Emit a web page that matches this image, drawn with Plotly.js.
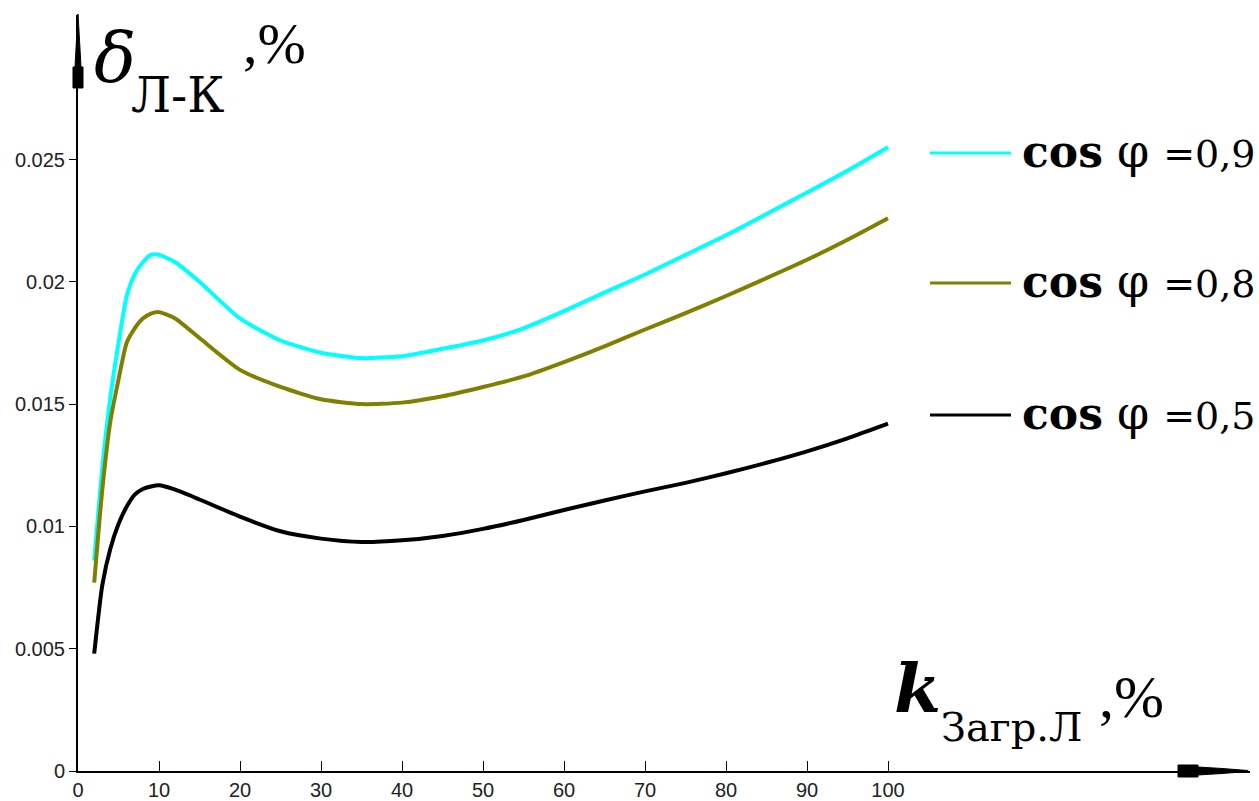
<!DOCTYPE html>
<html>
<head>
<meta charset="utf-8">
<script src="https://cdn.plot.ly/plotly-3.0.1.min.js"></script>
<style>html,body{margin:0;padding:0;background:#fff;}#chart{width:1259px;height:801px;}</style>
</head>
<body>
<div id="chart"></div>
<script>
// Load factor of the line, %
const kLoad = [2,3,4,5,6,7,8,9,10,12,15,20,25,30,35,40,45,50,55,60,65,70,75,80,85,90,95,100];
// delta Л-К, % for cos phi = 0.9, 0.8, 0.5
const cos09 = [0.0086,0.0124,0.0153,0.0175,0.0194,0.0203,0.0208,0.0211,0.0211,0.0208,0.0200,0.0185,0.0176,0.0171,0.01688,0.01696,0.01726,0.0176,0.0181,0.0188,0.01956,0.0203,0.0211,0.0219,0.02277,0.02365,0.02454,0.0255];
const cos08 = [0.0077,0.0115,0.0143,0.0160,0.0175,0.0181,0.0185,0.0187,0.01876,0.0185,0.0177,0.0164,0.0157,0.0152,0.0150,0.01506,0.01532,0.0157,0.01613,0.01672,0.01736,0.01805,0.01872,0.01942,0.02015,0.0209,0.02172,0.0226];
const cos05 = [0.0048,0.0076,0.0091,0.0101,0.0108,0.0113,0.01153,0.01163,0.01168,0.0115,0.0111,0.0104,0.0098,0.0095,0.00936,0.00943,0.00961,0.0099,0.01026,0.01067,0.01106,0.01143,0.01178,0.01217,0.0126,0.01307,0.0136,0.0142];
const seriesNames = ['cos φ =0,9','cos φ =0,8','cos φ =0,5'];
const seriesColors = ['#00FFFF','#808000','#000000'];
const xTicks = [0,10,20,30,40,50,60,70,80,90,100];
const yTicks = [0,0.005,0.01,0.015,0.02,0.025];
const yTickText = ['0','0.005','0.01','0.015','0.02','0.025'];

// layout geometry (pixels)
const W = 1259, H = 801, L = 78, R = 9, T = 15, B = 30;
const pw = W - L - R, ph = H - T - B;
const P = px => (px - L) / pw;
const Q = py => (H - B - py) / ph;

const data = [cos09, cos08, cos05].map((ys, i) => ({
  x: kLoad, y: ys, type: 'scatter', mode: 'lines', name: seriesNames[i],
  line: {color: seriesColors[i], width: 4, shape: 'spline', smoothing: 0.6},
  showlegend: false, hoverinfo: 'skip'
}));

const tickFont = {family: '"Liberation Sans", Arial, sans-serif', size: 20, color: '#222'};
const serif = '"DejaVu Serif", "Liberation Serif", serif';
const tserif = '"Liberation Serif", "Times New Roman", serif';

function ann(text, px, py, size, family, extra) {
  return Object.assign({
    text: text, xref: 'paper', yref: 'paper', x: P(px), y: Q(py),
    xanchor: 'left', yanchor: 'middle', showarrow: false, borderpad: 0,
    font: {family: family, size: size, color: '#000'}
  }, extra || {});
}

const annotations = [
  ann('<i>δ</i>', 93, 58, 70, serif),
  ann('Л-К', 130, 95, 48, serif),
  ann(',%', 242, 43, 58, tserif),
  ann('<b><i>k</i></b>', 893, 688, 68, serif),
  ann('Загр.Л', 940, 727, 40, serif),
  ann(',%', 1098, 697, 60, tserif)
];
const legendY = [153, 283, 415];
const legendVal = ['0,9','0,8','0,5'];
const shapes = [];
legendY.forEach((py, i) => {
  shapes.push({type: 'line', xref: 'paper', yref: 'paper', x0: P(930), x1: P(1011), y0: Q(py), y1: Q(py),
    line: {color: seriesColors[i], width: 3}});
  annotations.push(ann('<b>cos</b> <span style="font-size:46px">φ</span> <span style="font-size:38px">=' + legendVal[i] + '</span>',
    1021, py - 2, 44, serif));
});
// axis arrows
function path(pts) {
  return 'M ' + pts.map(p => P(p[0]).toFixed(5) + ',' + Q(p[1]).toFixed(5)).join(' L ') + ' Z';
}
shapes.push({type: 'path', xref: 'paper', yref: 'paper', fillcolor: '#000', line: {color: '#000', width: 1},
  path: path([[78,14],[79.5,40],[81,67],[83,67],[83,88],[73,88],[73,67],[75,67],[76.5,40]])});
shapes.push({type: 'path', xref: 'paper', yref: 'paper', fillcolor: '#000', line: {color: '#000', width: 1},
  path: path([[1178,765],[1198,765],[1198,767],[1222,768.5],[1248,770.5],[1248,771.5],[1222,773.5],[1198,775],[1198,777],[1178,777]])});

const layout = {
  width: W, height: H,
  margin: {l: L, r: R, t: T, b: B, pad: 0},
  paper_bgcolor: '#fff', plot_bgcolor: '#fff',
  xaxis: {range: [0, pw / 8.1], tickvals: xTicks, ticktext: xTicks.map(String), ticks: 'inside', ticklen: 10,
    tickcolor: '#000', tickwidth: 1, showgrid: false, zeroline: false, showline: true, linecolor: '#000', linewidth: 2,
    tickfont: tickFont, fixedrange: true},
  yaxis: {range: [0, ph / 24460], tickvals: yTicks, ticktext: yTickText, ticks: 'outside', ticklen: 7,
    tickcolor: '#000', tickwidth: 1, showgrid: false, zeroline: false, showline: true, linecolor: '#000', linewidth: 2,
    tickfont: tickFont, fixedrange: true},
  annotations: annotations,
  shapes: shapes,
  showlegend: false
};

Plotly.newPlot('chart', data, layout, {displayModeBar: false, staticPlot: true});
</script>
</body>
</html>
